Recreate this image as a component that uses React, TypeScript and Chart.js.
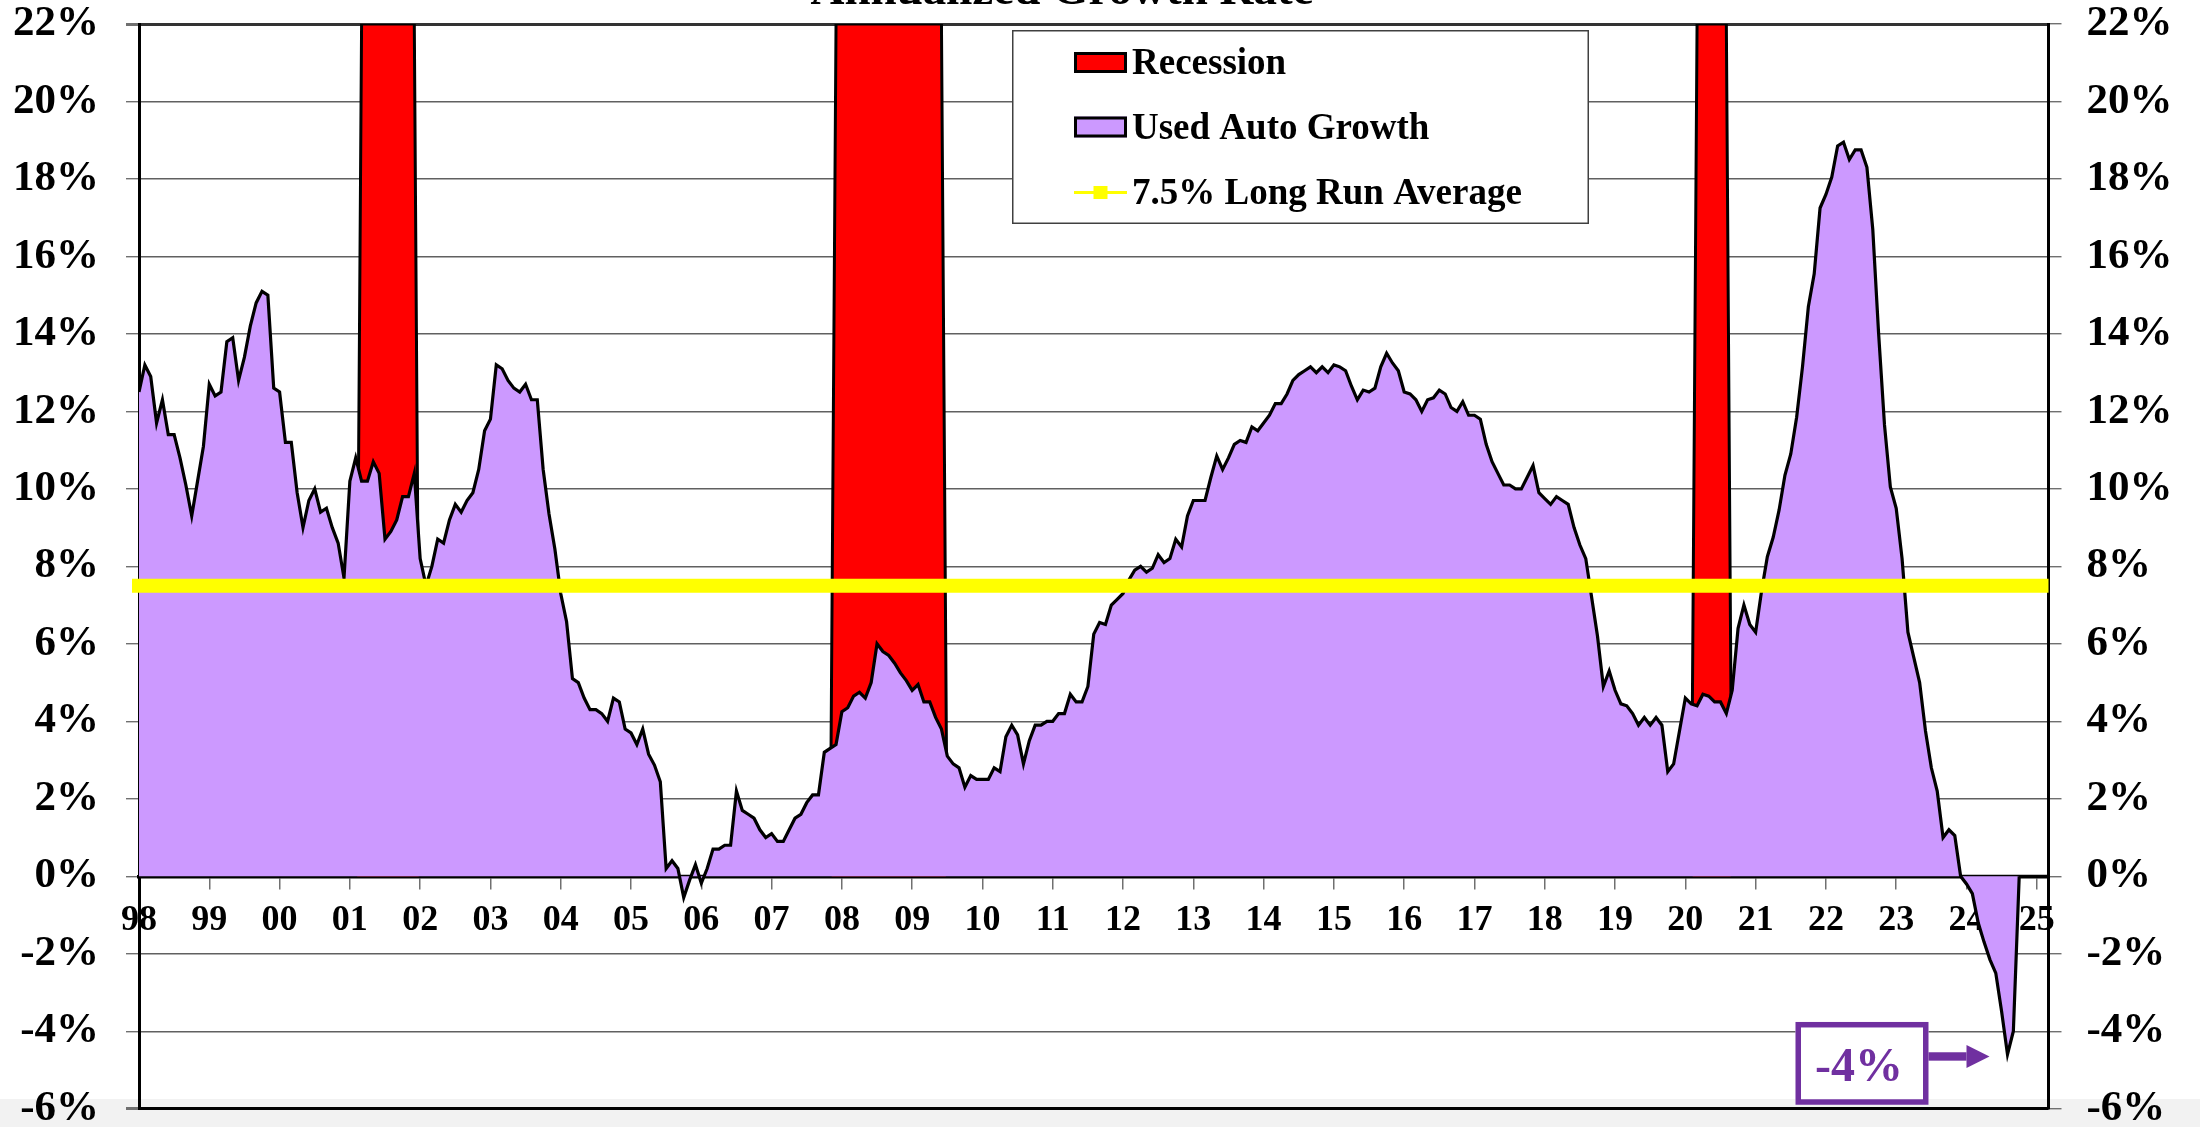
import { useEffect, useRef } from "react";
import { Chart, registerables } from "chart.js";

Chart.register(...registerables);

// ---------- DATA ----------
const FIRST_YEAR = 1998; // month index 0 = Jan 1998
const AXIS_LAST_MONTH = 326; // Mar 2025

const yearTickLabels = [
  "98", "99", "00", "01", "02", "03", "04", "05", "06", "07", "08", "09", "10", "11",
  "12", "13", "14", "15", "16", "17", "18", "19", "20", "21", "22", "23", "24", "25",
];

// Used auto growth, annualized %, monthly from Jan 1998
const usedAutoGrowth: number[] = [
  // 1998
  12.5, 13.2, 12.9, 11.7, 12.3, 11.4, 11.4, 10.8, 10.1, 9.3, 10.2, 11.1,
  // 1999
  12.7, 12.4, 12.5, 13.8, 13.9, 12.8, 13.4, 14.2, 14.8, 15.1, 15.0, 12.6,
  // 2000
  12.5, 11.2, 11.2, 9.9, 9.0, 9.7, 10.0, 9.4, 9.5, 9.0, 8.6, 7.7,
  // 2001
  10.2, 10.8, 10.2, 10.2, 10.7, 10.4, 8.7, 8.9, 9.2, 9.8, 9.8, 10.4,
  // 2002
  8.2, 7.5, 8.0, 8.7, 8.6, 9.2, 9.6, 9.4, 9.7, 9.9, 10.5, 11.5,
  // 2003
  11.8, 13.2, 13.1, 12.8, 12.6, 12.5, 12.7, 12.3, 12.3, 10.5, 9.35, 8.45,
  // 2004
  7.3, 6.57, 5.1, 5.0, 4.6, 4.3, 4.3, 4.2, 4.0, 4.6, 4.5, 3.8,
  // 2005
  3.7, 3.4, 3.8, 3.15, 2.87, 2.44, 0.2, 0.4, 0.2, -0.55, -0.1, 0.3,
  // 2006
  -0.18, 0.2, 0.7, 0.7, 0.8, 0.8, 2.2, 1.7, 1.6, 1.5, 1.2, 1.0,
  // 2007
  1.1, 0.9, 0.9, 1.2, 1.5, 1.6, 1.9, 2.1, 2.1, 3.2, 3.3, 3.4,
  // 2008
  4.25, 4.35, 4.65, 4.75, 4.6, 5.0, 6.0, 5.8, 5.7, 5.5, 5.25, 5.05,
  // 2009
  4.8, 4.95, 4.5, 4.5, 4.1, 3.8, 3.1, 2.9, 2.8, 2.3, 2.6, 2.5,
  // 2010
  2.5, 2.5, 2.8, 2.7, 3.6, 3.9, 3.65, 2.9, 3.5, 3.9, 3.9, 4.0,
  // 2011
  4.0, 4.2, 4.2, 4.7, 4.5, 4.5, 4.9, 6.25, 6.55, 6.5, 7.0, 7.15,
  // 2012
  7.3, 7.65, 7.9, 8.0, 7.85, 7.95, 8.3, 8.1, 8.2, 8.7, 8.5, 9.3,
  // 2013
  9.7, 9.7, 9.7, 10.3, 10.85, 10.5, 10.8, 11.15, 11.25, 11.2, 11.6, 11.5,
  // 2014
  11.7, 11.9, 12.2, 12.2, 12.45, 12.8, 12.95, 13.05, 13.15, 13.0, 13.15, 13.0,
  // 2015
  13.2, 13.15, 13.05, 12.65, 12.3, 12.55, 12.5, 12.6, 13.15, 13.5, 13.25, 13.05,
  // 2016
  12.5, 12.45, 12.3, 12.0, 12.3, 12.35, 12.55, 12.45, 12.1, 12.0, 12.25, 11.9,
  // 2017
  11.9, 11.8, 11.15, 10.7, 10.4, 10.1, 10.1, 10.0, 10.0, 10.3, 10.6, 9.9,
  // 2018
  9.75, 9.6, 9.8, 9.7, 9.6, 9.0, 8.55, 8.2, 7.2, 6.2, 4.9, 5.3,
  // 2019
  4.8, 4.45, 4.4, 4.2, 3.9, 4.1, 3.9, 4.1, 3.9, 2.7, 2.9, 3.75,
  // 2020
  4.6, 4.45, 4.4, 4.7, 4.65, 4.5, 4.5, 4.2, 4.8, 6.4, 7.0, 6.5,
  // 2021
  6.3, 7.35, 8.25, 8.75, 9.45, 10.35, 10.9, 11.85, 13.15, 14.7, 15.55, 17.25,
  // 2022
  17.6, 18.05, 18.85, 18.95, 18.5, 18.75, 18.75, 18.3, 16.7, 14.0, 11.65, 10.05,
  // 2023
  9.5, 8.2, 6.3, 5.65, 5.0, 3.75, 2.8, 2.2, 1.0, 1.2, 1.05, 0.0,
  // 2024
  -0.2, -0.45, -1.2, -1.7, -2.15, -2.5, -3.5, -4.6, -4.0, 0.0,
];

const recessionPeriods: [string, string][] = [
  ["2001-03", "2001-12"],
  ["2007-12", "2009-06"],
  ["2020-03", "2020-08"],
];
const recessionHeight = 22;
const longRunAverage = 7.5;

const titleText = "Annualized Growth Rate";
const recessionLabel = "Recession";
const growthLabel = "Used Auto Growth";
const averageLabel = "7.5% Long Run Average";
const calloutText = "-4%";

// ---------- HELPERS ----------
const FONT = "'Liberation Serif', 'Times New Roman', serif";
const monthIndex = (s: string) => {
  const [y, m] = s.split("-").map(Number);
  return (y - FIRST_YEAR) * 12 + (m - 1);
};

const growthPoints = usedAutoGrowth.map((v, i) => ({ x: i, y: v }));
const recessionRanges = recessionPeriods.map(([a, b]) => [monthIndex(a), monthIndex(b)]);
const recessionPoints: { x: number; y: number }[] = [];
for (let i = 0; i <= AXIS_LAST_MONTH; i++) {
  const inRec = recessionRanges.some(([a, b]) => i >= a && i <= b);
  recessionPoints.push({ x: i, y: inRec ? recessionHeight : 0 });
}
const averagePoints = [
  { x: 0, y: longRunAverage },
  { x: AXIS_LAST_MONTH, y: longRunAverage },
];

const PURPLE = "#CC99FF";
const RED = "#FF0000";
const YELLOW = "#FFFF00";
const CALLOUT = "#7030A0";

const backgroundPlugin = {
  id: "pageBackground",
  beforeDraw(chart: any) {
    const { ctx, width, height } = chart;
    ctx.save();
    ctx.fillStyle = "#FFFFFF";
    ctx.fillRect(0, 0, width, height);
    ctx.fillStyle = "#F2F2F2";
    ctx.fillRect(0, 1099, width, height - 1099);
    ctx.restore();
  },
};

const overlayPlugin = {
  id: "overlay",
  afterDraw(chart: any) {
    const { ctx } = chart;
    const xs = chart.scales.x;
    const ys = chart.scales.y;
    ctx.save();

    // Title (cut at the top of the page)
    ctx.fillStyle = "#000";
    ctx.font = `bold 47px ${FONT}`;
    ctx.textAlign = "center";
    ctx.textBaseline = "alphabetic";
    ctx.fillText(titleText, 1062, 3.5);

    // Legend box
    const bx = 1012, by = 30, bw = 577, bh = 194;
    ctx.fillStyle = "#FFFFFF";
    ctx.fillRect(bx, by, bw, bh);
    ctx.lineWidth = 1.5;
    ctx.strokeStyle = "#404040";
    ctx.strokeRect(bx + 0.75, by + 0.75, bw - 1.5, bh - 1.5);

    const sx = 1074, sw = 53;
    const rows = [
      { label: recessionLabel, kind: "box", color: RED, cy: 62.5, base: 73.5 },
      { label: growthLabel, kind: "box", color: PURPLE, cy: 127, base: 138.5 },
      { label: averageLabel, kind: "line", color: YELLOW, cy: 192.5, base: 203.5 },
    ];
    rows.forEach((r) => {
      if (r.kind === "box") {
        ctx.fillStyle = r.color;
        ctx.fillRect(sx, r.cy - 10.5, sw, 21);
        ctx.lineWidth = 3;
        ctx.strokeStyle = "#000";
        ctx.strokeRect(sx + 1.5, r.cy - 9, sw - 3, 18);
      } else {
        ctx.strokeStyle = r.color;
        ctx.lineWidth = 3;
        ctx.beginPath();
        ctx.moveTo(sx, r.cy);
        ctx.lineTo(sx + sw, r.cy);
        ctx.stroke();
        ctx.fillStyle = r.color;
        ctx.fillRect(sx + sw / 2 - 7, r.cy - 6.5, 14, 13);
      }
      ctx.fillStyle = "#000";
      ctx.font = `bold 37px ${FONT}`;
      ctx.textAlign = "left";
      ctx.textBaseline = "alphabetic";
      ctx.fillText(r.label, 1132, r.base);
    });

    // Callout pointing at the latest low
    let mi = 0;
    usedAutoGrowth.forEach((v, i) => {
      if (v < usedAutoGrowth[mi]) mi = i;
    });
    const px = xs.getPixelForValue(mi);
    const py = ys.getPixelForValue(usedAutoGrowth[mi]);
    const tipX = px - 18;
    const tipY = py + 2;
    const boxL = tipX - 194, boxR = tipX - 61, boxT = tipY - 34.5, boxB = tipY + 48.3;
    ctx.fillStyle = "#FFFFFF";
    ctx.fillRect(boxL, boxT, boxR - boxL, boxB - boxT);
    ctx.lineWidth = 5.5;
    ctx.strokeStyle = CALLOUT;
    ctx.strokeRect(boxL + 2.75, boxT + 2.75, boxR - boxL - 5.5, boxB - boxT - 5.5);
    ctx.fillStyle = CALLOUT;
    ctx.font = `bold 48px ${FONT}`;
    ctx.textAlign = "center";
    ctx.textBaseline = "alphabetic";
    ctx.fillText(calloutText, (boxL + boxR) / 2 - 3, tipY + 25);
    // arrow
    ctx.fillRect(boxR, tipY - 4.2, tipX - 23 - boxR, 8.4);
    ctx.beginPath();
    ctx.moveTo(tipX - 23, tipY - 11.5);
    ctx.lineTo(tipX, tipY);
    ctx.lineTo(tipX - 23, tipY + 11.5);
    ctx.closePath();
    ctx.fill();

    ctx.restore();
  },
};

export default function App() {
  const ref = useRef<HTMLCanvasElement | null>(null);

  useEffect(() => {
    document.body.style.margin = "0";
    document.body.style.overflow = "hidden";
    const canvas = ref.current;
    if (!canvas) return;

    const tickFont = { family: FONT, size: 43, weight: "bold" as const, lineHeight: 0.8 };
    const gridColor = (c: any) => {
      const v = c.tick ? c.tick.value : 0;
      if (v === 22) return "#333333";
      if (v === -6) return "#000000";
      return "#606060";
    };
    const gridWidth = (c: any) => {
      const v = c.tick ? c.tick.value : 0;
      if (v === 22 || v === -6) return 3;
      return 1.4;
    };
    const fixVertical = (w: number) => (s: any) => {
      s.width = w;
      s.paddingTop = 0;
      s.paddingBottom = 0;
    };

    const chart = new Chart(canvas, {
      type: "line",
      data: {
        datasets: [
          {
            label: averageLabel,
            data: averagePoints,
            borderColor: YELLOW,
            backgroundColor: YELLOW,
            borderWidth: 14,
            borderCapStyle: "square",
            pointRadius: 0,
            fill: false,
            clip: { left: 8, right: 0, top: 8, bottom: 8 } as any,
            order: 0,
          },
          {
            label: growthLabel,
            data: growthPoints,
            borderColor: "#000000",
            backgroundColor: PURPLE,
            borderWidth: 3.2,
            pointRadius: 0,
            fill: "origin",
            tension: 0,
            order: 1,
          },
          {
            label: recessionLabel,
            data: recessionPoints,
            borderColor: "#000000",
            backgroundColor: RED,
            borderWidth: 3,
            pointRadius: 0,
            fill: "origin",
            tension: 0,
            order: 2,
          },
        ],
      },
      options: {
        responsive: false,
        maintainAspectRatio: false,
        animation: false,
        devicePixelRatio: 1,
        events: [],
        layout: { padding: { top: 24, bottom: 18.3, left: 0, right: 0 } },
        plugins: {
          legend: { display: false },
          tooltip: { enabled: false },
          title: { display: false },
        },
        scales: {
          x: {
            type: "linear",
            position: { y: 0 } as any,
            min: 0,
            max: AXIS_LAST_MONTH,
            z: 1,
            ticks: {
              stepSize: 12,
              autoSkip: false,
              includeBounds: false,
              maxRotation: 0,
              padding: 12,
              color: "#000",
              font: { family: FONT, size: 36, weight: "bold" },
              callback: (v: any) => {
                const k = Math.round(Number(v) / 12);
                return yearTickLabels[k] ?? "";
              },
            },
            grid: {
              drawOnChartArea: false,
              drawTicks: true,
              tickLength: 11,
              color: "#707070",
              lineWidth: 1.5,
            },
            border: { display: true, color: "#000000", width: 3.5 },
          },
          y: {
            position: "left",
            min: -6,
            max: 22,
            ticks: {
              stepSize: 2,
              padding: 27,
              color: "#000",
              font: tickFont,
              callback: (v: any) => `${v}%`,
            },
            grid: {
              color: gridColor,
              lineWidth: gridWidth,
              tickColor: "#707070",
              tickLength: 13,
              drawTicks: true,
            },
            border: { display: true, color: "#000000", width: 3 },
            afterFit: fixVertical(139),
          },
          y2: {
            position: "right",
            min: -6,
            max: 22,
            ticks: {
              stepSize: 2,
              padding: 25,
              color: "#000",
              font: tickFont,
              callback: (v: any) => `${v}%`,
            },
            grid: {
              drawOnChartArea: false,
              drawTicks: true,
              tickLength: 13,
              color: "#707070",
              lineWidth: 1.4,
            },
            border: { display: true, color: "#000000", width: 3 },
            afterFit: fixVertical(151.5),
          },
        },
      } as any,
      plugins: [backgroundPlugin, overlayPlugin],
    });

    return () => chart.destroy();
  }, []);

  return <canvas ref={ref} width={2200} height={1127} style={{ display: "block" }} />;
}
